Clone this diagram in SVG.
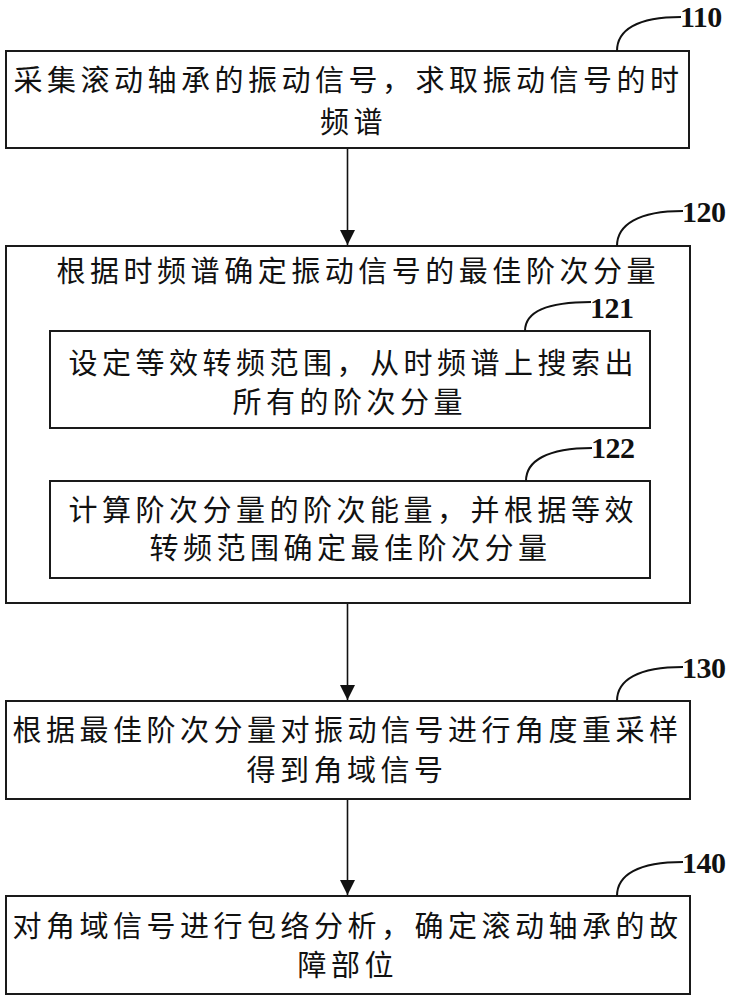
<svg xmlns="http://www.w3.org/2000/svg" width="732" height="1000" viewBox="0 0 732 1000">
<style>
.box{fill:#fff;stroke:#1a1a1a;stroke-width:2}
.t{font-family:"Noto Sans CJK SC","Noto Sans CJK JP",sans-serif;font-size:29px;fill:#111;letter-spacing:4.5px}
.tt{letter-spacing:0}
.lbl{font-family:"Liberation Serif",serif;font-weight:bold;font-size:30px;fill:#111;letter-spacing:-0.5px}
.lead{fill:none;stroke:#111;stroke-width:2}
.conn{stroke:#111;stroke-width:1.6;fill:none}
.conn2{stroke:#666;stroke-width:1.2;fill:none}
</style>
<defs>
<marker id="ah" markerUnits="userSpaceOnUse" markerWidth="16" markerHeight="16" viewBox="0 0 16 16" refX="15" refY="8" orient="auto">
<path d="M0,0.5 L15,8 L0,15.5 Z" fill="#111"/>
</marker>
<marker id="ah2" markerUnits="userSpaceOnUse" markerWidth="18" markerHeight="16" viewBox="0 0 18 16" refX="17" refY="8" orient="auto">
<path d="M0,1 L17,8 L0,15 Z" fill="#111"/>
</marker>
</defs>
<rect width="732" height="1000" fill="#fff"/>

<g id="connectors">
<line class="conn" x1="347.5" y1="148" x2="347.5" y2="245" marker-end="url(#ah)"/>
<line class="conn2" x1="350" y1="428" x2="350" y2="480" marker-end="url(#ah2)"/>
<line class="conn" x1="347.5" y1="603" x2="347.5" y2="700" marker-end="url(#ah)"/>
<line class="conn" x1="347.5" y1="799" x2="347.5" y2="895" marker-end="url(#ah)"/>
</g>

<g id="n110">
<rect class="box" x="6" y="51" width="683" height="97"/>
<text class="t" x="13.5" y="90.5">采集滚动轴承的振动信号，求取振动信号的时</text>
<text class="t" x="320" y="132.5">频谱</text>
<path class="lead" d="M617,51 C617,30 637,17 681,17"/>
<text class="lbl" x="680" y="27">110</text>
</g>

<g id="n120">
<rect class="box" x="6" y="246" width="684" height="357"/>
<text class="t tt" x="56.5" y="282" textLength="599" lengthAdjust="spacing">根据时频谱确定振动信号的最佳阶次分量</text>
<path class="lead" d="M617,246 C617,225 638,211 683,211"/>
<text class="lbl" x="682" y="222">120</text>
</g>

<g id="n121">
<rect class="box" x="50" y="331" width="600" height="97"/>
<text class="t" x="68.5" y="373.5">设定等效转频范围，从时频谱上搜索出</text>
<text class="t" x="232.5" y="413">所有的阶次分量</text>
<path class="lead" d="M525,331 C525,312 546,302 591,302"/>
<text class="lbl" x="590" y="318">121</text>
</g>

<g id="n122">
<rect class="box" x="50" y="481" width="600" height="97"/>
<text class="t" x="68.5" y="521">计算阶次分量的阶次能量，并根据等效</text>
<text class="t" x="149.5" y="559">转频范围确定最佳阶次分量</text>
<path class="lead" d="M526,481 C526,461 547,448 592,448"/>
<text class="lbl" x="591" y="458">122</text>
</g>

<g id="n130">
<rect class="box" x="6" y="701" width="684" height="98"/>
<text class="t" x="12.5" y="741">根据最佳阶次分量对振动信号进行角度重采样</text>
<text class="t" x="246.5" y="781">得到角域信号</text>
<path class="lead" d="M617,701 C617,680 638,667 683,667"/>
<text class="lbl" x="682" y="678">130</text>
</g>

<g id="n140">
<rect class="box" x="6" y="896" width="684" height="98"/>
<text class="t" x="12.5" y="936.5">对角域信号进行包络分析，确定滚动轴承的故</text>
<text class="t" x="297.5" y="976">障部位</text>
<path class="lead" d="M617,896 C617,875 638,862 683,862"/>
<text class="lbl" x="682" y="873">140</text>
</g>
</svg>
